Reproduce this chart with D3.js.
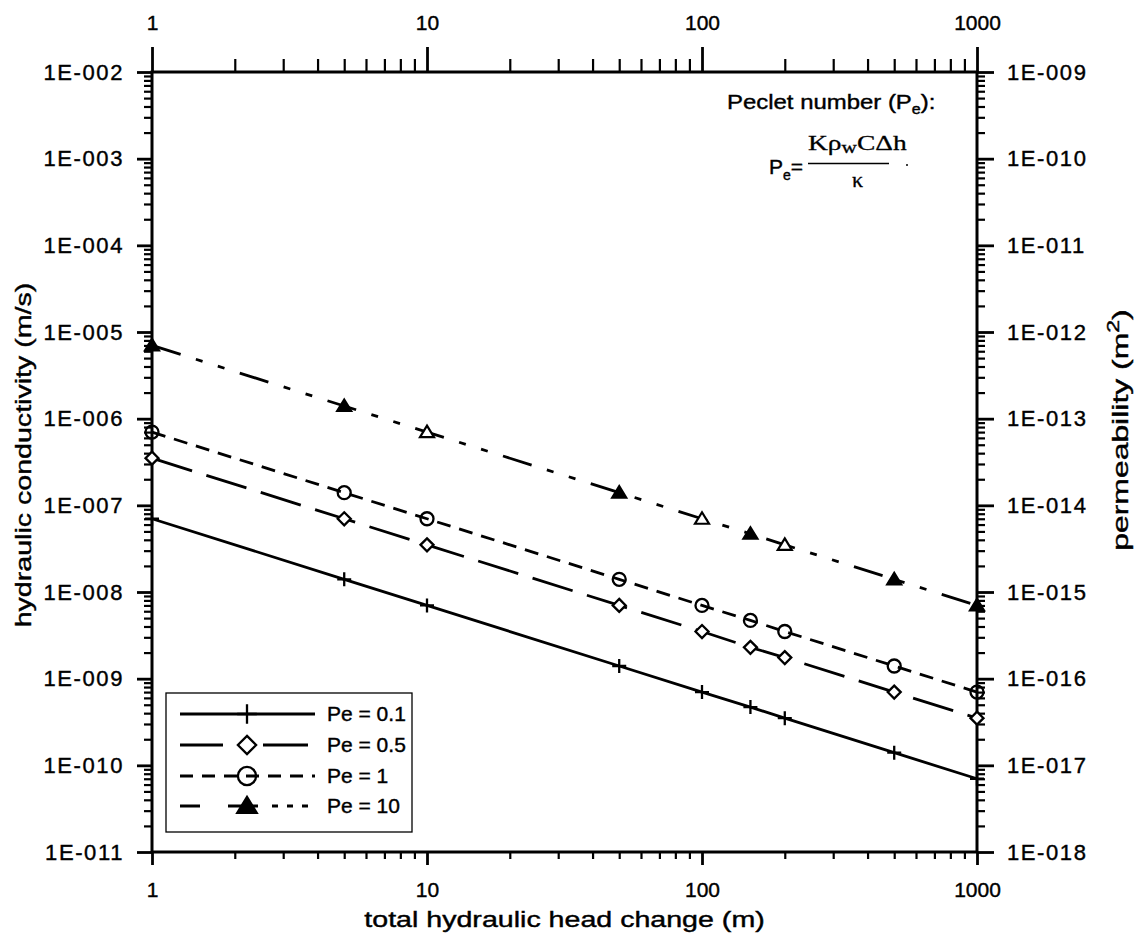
<!DOCTYPE html>
<html>
<head>
<meta charset="utf-8">
<script src="https://cdn.jsdelivr.net/npm/d3@7"></script>
<style>
  html, body { margin: 0; padding: 0; background: #fff; }
  svg { display: block; }
  text { font-family: "Liberation Sans", Arial, Helvetica, sans-serif; fill: #000; stroke: #000; stroke-width: 0.4px; }
  text.serif { font-family: "Liberation Serif", "Times New Roman", serif; stroke-width: 0.3px; }
</style>
</head>
<body>
<svg id="chart" width="1139" height="938"></svg>
<script>
// Total hydraulic head change (m)
const headChange = [1, 5, 10, 50, 100, 150, 200, 500, 1000];

// Hydraulic conductivity K (m/s) for each Peclet number
const kPe01 = [7.0e-8, 1.4e-8, 7.0e-9, 1.4e-9, 7.0e-10, 4.7e-10, 3.5e-10, 1.4e-10, 7.0e-11];
const kPe05 = [3.5e-7, 7.0e-8, 3.5e-8, 7.0e-9, 3.5e-9, 2.3e-9, 1.75e-9, 7.0e-10, 3.5e-10];
const kPe1  = [7.0e-7, 1.4e-7, 7.0e-8, 1.4e-8, 7.0e-9, 4.7e-9, 3.5e-9, 1.4e-9, 7.0e-10];
const kPe10 = [7.0e-6, 1.4e-6, 7.0e-7, 1.4e-7, 7.0e-8, 4.7e-8, 3.5e-8, 1.4e-8, 7.0e-9];

const seriesNames = ["Pe = 0.1", "Pe = 0.5", "Pe = 1", "Pe = 10"];

// Head-change values whose triangle is drawn hollow in the Pe = 10 series
const hollowTriangleAt = [10, 100, 200];

// Axis ticks
const xMajorTicks = [1, 10, 100, 1000];
const kMajorTicks = [1e-11, 1e-10, 1e-9, 1e-8, 1e-7, 1e-6, 1e-5, 1e-4, 1e-3, 1e-2];
const permMajorTicks = [1e-18, 1e-17, 1e-16, 1e-15, 1e-14, 1e-13, 1e-12, 1e-11, 1e-10, 1e-9];

const svg = d3.select("#chart");

const plotLeft = 152, plotRight = 977, plotTop = 72, plotBottom = 852;

const x = d3.scaleLog().domain([1, 1000]).range([plotLeft, plotRight]);
const y = d3.scaleLog().domain([1e-11, 1e-2]).range([plotBottom, plotTop]);
const yPerm = d3.scaleLog().domain([1e-18, 1e-9]).range([plotBottom, plotTop]);

function minorTicks(majors) {
  const out = [];
  for (let i = 0; i < majors.length - 1; i++) {
    for (let m = 2; m <= 9; m++) out.push(+(majors[i] * m).toPrecision(3));
  }
  return out;
}

function sciLabel(v) {
  const e = Math.round(Math.log10(v));
  const sign = e < 0 ? "-" : "+";
  return "1E" + sign + String(Math.abs(e)).padStart(3, "0");
}

function styleAxis(g, width, fontSize, spacing) {
  g.select(".domain").remove();
  g.selectAll(".tick line").attr("stroke", "#000").attr("stroke-width", width);
  g.selectAll(".tick text").attr("font-size", fontSize).attr("fill", "#000")
    .attr("letter-spacing", spacing || null);
}

// text stretched horizontally (in its own reading direction)
function wideText(x0, y0, angle, sx, size, anchor) {
  return svg.append("g")
    .attr("transform", `translate(${x0},${y0}) rotate(${angle}) scale(${sx},1)`)
    .append("text").attr("font-size", size).attr("text-anchor", anchor || "start");
}

// ---- X axes (bottom & top)
const xMinor = minorTicks(xMajorTicks);
svg.append("g").attr("transform", `translate(0,${plotBottom})`)
  .call(d3.axisBottom(x).tickValues(xMinor).tickSize(7).tickFormat(""))
  .call(g => styleAxis(g, 2.2, 21));
svg.append("g").attr("transform", `translate(0,${plotBottom})`)
  .call(d3.axisBottom(x).tickValues(xMajorTicks).tickSize(13).tickPadding(17).tickFormat(d3.format("d")))
  .call(g => styleAxis(g, 2.8, 21));

svg.append("g").attr("transform", `translate(0,${plotTop})`)
  .call(d3.axisTop(x).tickValues(xMinor).tickSize(13).tickFormat(""))
  .call(g => styleAxis(g, 2.2, 21));
svg.append("g").attr("transform", `translate(0,${plotTop})`)
  .call(d3.axisTop(x).tickValues(xMajorTicks).tickSize(25).tickPadding(17).tickFormat(d3.format("d")))
  .call(g => styleAxis(g, 2.8, 21));

// ---- Y axes (left: hydraulic conductivity, right: permeability)
svg.append("g").attr("transform", `translate(${plotLeft},0)`)
  .call(d3.axisLeft(y).tickValues(minorTicks(kMajorTicks)).tickSize(8).tickFormat(""))
  .call(g => styleAxis(g, 2.2, 22));
svg.append("g").attr("transform", `translate(${plotLeft},0)`)
  .call(d3.axisLeft(y).tickValues(kMajorTicks).tickSize(15).tickPadding(13).tickFormat(sciLabel))
  .call(g => styleAxis(g, 2.8, 22, 1.6));

svg.append("g").attr("transform", `translate(${plotRight},0)`)
  .call(d3.axisRight(yPerm).tickValues(minorTicks(permMajorTicks)).tickSize(8).tickFormat(""))
  .call(g => styleAxis(g, 2.2, 22));
svg.append("g").attr("transform", `translate(${plotRight},0)`)
  .call(d3.axisRight(yPerm).tickValues(permMajorTicks).tickSize(17).tickPadding(13).tickFormat(sciLabel))
  .call(g => styleAxis(g, 2.8, 22, 1.6));

// Plot frame
svg.append("rect")
  .attr("x", plotLeft).attr("y", plotTop)
  .attr("width", plotRight - plotLeft).attr("height", plotBottom - plotTop)
  .attr("fill", "none").attr("stroke", "#000").attr("stroke-width", 3);

// ---- Axis titles
wideText((plotLeft + plotRight) / 2, 927, 0, 1.3, 22, "middle")
  .text("total hydraulic head change (m)");

wideText(31, 455, -90, 1.3, 22, "middle")
  .text("hydraulic conductivity (m/s)");

const permTitle = wideText(1128, 430, -90, 1.45, 22, "middle");
permTitle.append("tspan").text("permeability (m");
permTitle.append("tspan").attr("font-size", 16).attr("dy", -9).text("2");
permTitle.append("tspan").attr("dy", 9).text(")");

// ---- Peclet number annotation
const peTitle = wideText(727, 109, 0, 1.14, 21);
peTitle.append("tspan").text("Peclet number (P");
peTitle.append("tspan").attr("font-size", 14).attr("dy", 5).text("e");
peTitle.append("tspan").attr("dy", -5).text("):");

const peEq = svg.append("text").attr("x", 769).attr("y", 174).attr("font-size", 21);
peEq.append("tspan").text("P");
peEq.append("tspan").attr("font-size", 14).attr("dy", 6).text("e");
peEq.append("tspan").attr("dy", -6).text("=");

const numer = wideText(808, 150, 0, 1.25, 22).attr("class", "serif");
numer.append("tspan").text("K\u03C1");
numer.append("tspan").attr("font-size", 17).attr("dy", 3).text("w");
numer.append("tspan").attr("dy", -3).text("C\u0394h");

svg.append("line").attr("x1", 808).attr("x2", 889).attr("y1", 163.5).attr("y2", 163.5)
  .attr("stroke", "#000").attr("stroke-width", 1.3);
svg.append("text").attr("class", "serif").attr("x", 852).attr("y", 187).attr("font-size", 22)
  .text("\u03BA");
svg.append("circle").attr("cx", 907).attr("cy", 165).attr("r", 1).attr("fill", "#000");

// ---- Series
const dashes = ["", "42,15", "14,9", "30,16,7,16,7,16"];
const series = [kPe01, kPe05, kPe1, kPe10].map((vals, i) => ({
  name: seriesNames[i],
  dash: dashes[i],
  points: headChange.map((h, j) => ({ h, k: vals[j] }))
}));

const line = d3.line().x(d => x(d.h)).y(d => y(d.k));

const plot = svg.append("g");
plot.selectAll("path.series").data(series).join("path")
  .attr("class", "series")
  .attr("d", d => line(d.points))
  .attr("fill", "none").attr("stroke", "#000").attr("stroke-width", 2.8)
  .attr("stroke-dasharray", d => d.dash || null);

// marker shapes, scaled by s
function drawMarker(g, type, s, hollow) {
  if (type === 0) {
    g.append("path").attr("d", `M0,${-7 * s}V${7 * s}M${-7 * s},0H${7 * s}`)
      .attr("stroke", "#000").attr("stroke-width", 2.3).attr("fill", "none");
  } else if (type === 1) {
    g.append("path").attr("d", `M0,${-6.5 * s}L${6.5 * s},0L0,${6.5 * s}L${-6.5 * s},0Z`)
      .attr("stroke", "#000").attr("stroke-width", 2.3).attr("fill", "#fff");
  } else if (type === 2) {
    g.append("circle").attr("r", 6.5 * s)
      .attr("stroke", "#000").attr("stroke-width", 2.3).attr("fill", "none");
  } else {
    g.append("path").attr("d", `M0,${-6.5 * s}L${7 * s},${5 * s}L${-7 * s},${5 * s}Z`)
      .attr("stroke", "#000").attr("stroke-width", 2.2)
      .attr("fill", hollow ? "#fff" : "#000");
  }
}

series.forEach((s, i) => {
  s.points.forEach(p => {
    const g = plot.append("g").attr("transform", `translate(${x(p.h)},${y(p.k)})`);
    drawMarker(g, i, 1, i === 3 && hollowTriangleAt.includes(p.h));
  });
});

// ---- Legend
const legend = svg.append("g");
legend.append("rect").attr("x", 166).attr("y", 693).attr("width", 246).attr("height", 139)
  .attr("fill", "#fff").attr("stroke", "#000").attr("stroke-width", 1.3);

const legendDashes = ["", "43,40,45,20", "13,9", "20,28,30,14,6,9,6,9,6,20"];
const rowY = [714, 745, 776, 806];
series.forEach((s, i) => {
  legend.append("line").attr("x1", 180).attr("x2", 315).attr("y1", rowY[i]).attr("y2", rowY[i])
    .attr("stroke", "#000").attr("stroke-width", 2.8)
    .attr("stroke-dasharray", legendDashes[i] || null);
  const g = legend.append("g").attr("transform", `translate(247,${rowY[i]})`);
  drawMarker(g, i, 1.4, false);
  legend.append("text").attr("x", 327).attr("y", rowY[i] + 7).attr("font-size", 21).text(s.name);
});
</script>
</body>
</html>
